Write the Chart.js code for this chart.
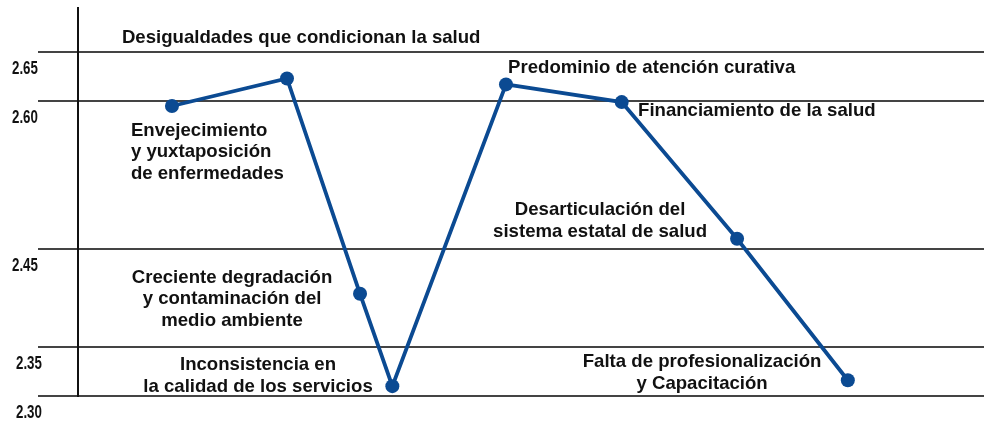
<!DOCTYPE html>
<html>
<head>
<meta charset="utf-8">
<script src="https://cdn.jsdelivr.net/npm/chart.js@4.4.1/dist/chart.umd.min.js"></script>
<style>
  html, body { margin: 0; padding: 0; background: #fff; overflow: hidden; }
  #wrap { width: 984px; height: 421px; }
</style>
</head>
<body>
<div id="wrap"><canvas id="DeterminantesChart"></canvas></div>
<script>
// x positions of the points (in point-spacing units)
const xPositions = [1.0, 2.0, 2.635, 2.916, 3.904, 4.91, 5.913, 6.876];
const scores = [2.595, 2.623, 2.404, 2.310, 2.617, 2.599, 2.460, 2.316];
const yTicks = [2.30, 2.35, 2.45, 2.60, 2.65];

// text labels placed on the chart: lines, x, y (first baseline), alignment
const notes = [
  { lines: ['Desigualdades que condicionan la salud'], x: 0.565, y: 2.659, align: 'left' },
  { lines: ['Predominio de atención curativa'], x: 3.922, y: 2.6286, align: 'left' },
  { lines: ['Financiamiento de la salud'], x: 5.052, y: 2.5848, align: 'left' },
  { lines: ['Envejecimiento', 'y yuxtaposición', 'de enfermedades'], x: 0.643, y: 2.5645, align: 'left' },
  { lines: ['Desarticulación del', 'sistema estatal de salud'], x: 4.722, y: 2.4841, align: 'center' },
  { lines: ['Creciente degradación', 'y contaminación del', 'medio ambiente'], x: 1.522, y: 2.415, align: 'center' },
  { lines: ['Inconsistencia en', 'la calidad de los servicios'], x: 1.748, y: 2.3264, align: 'center' },
  { lines: ['Falta de profesionalización', 'y Capacitación'], x: 5.609, y: 2.3295, align: 'center' }
];

const blue = '#0b4a92';

const notesPlugin = {
  id: 'notes',
  afterDatasetsDraw(chart) {
    const ctx = chart.ctx;
    const xs = chart.scales.x, ys = chart.scales.y;
    ctx.save();
    ctx.fillStyle = '#111';
    ctx.font = 'bold 18.6px "Liberation Sans", Arial, sans-serif';
    ctx.textBaseline = 'alphabetic';
    notes.forEach(n => {
      const px = xs.getPixelForValue(n.x);
      const py = ys.getPixelForValue(n.y);
      ctx.textAlign = n.align;
      n.lines.forEach((t, i) => ctx.fillText(t, px, py + i * 21.5));
    });

    // narrow tick labels under each grid line
    ctx.font = 'bold 19px "Liberation Sans", Arial, sans-serif';
    ctx.textAlign = 'left';
    ys.ticks.forEach(t => {
      const py = ys.getPixelForValue(t.value);
      ctx.save();
      ctx.translate(t.value < 2.4 ? 16 : 12, py + 22);
      ctx.scale(0.7, 1);
      ctx.fillText(t.value.toFixed(2), 0, 0);
      ctx.restore();
    });
    ctx.restore();
  }
};

const data = {
  datasets: [
    {
      data: xPositions.map((x, i) => ({ x: x, y: scores[i] })),
      borderColor: blue,
      backgroundColor: blue,
      borderWidth: 3.8,
      pointRadius: 7,
      pointHoverRadius: 7,
      pointBorderWidth: 0,
      tension: 0,
      clip: false
    }
  ]
};

const config = {
  type: 'line',
  data: data,
  options: {
    responsive: true,
    maintainAspectRatio: false,
    animation: false,
    layout: { autoPadding: false, padding: { left: 12, top: 8, right: 0, bottom: 25 } },
    plugins: {
      legend: { display: false },
      tooltip: { enabled: false }
    },
    scales: {
      x: {
        type: 'linear',
        min: 0.183,
        max: 8.06,
        display: false
      },
      y: {
        type: 'linear',
        min: 2.30,
        max: 2.6947,
        afterBuildTicks: (axis) => { axis.ticks = yTicks.map(v => ({ value: v })); },
        afterFit: (axis) => { axis.width = 66; },
        border: { display: true, color: '#111', width: 2 },
        grid: {
          color: '#444',
          lineWidth: 2,
          tickLength: 40,
          drawTicks: true
        },
        ticks: { display: false }
      }
    }
  },
  plugins: [notesPlugin]
};

const chart = new Chart(document.getElementById('DeterminantesChart').getContext('2d'), config);
</script>
</body>
</html>
